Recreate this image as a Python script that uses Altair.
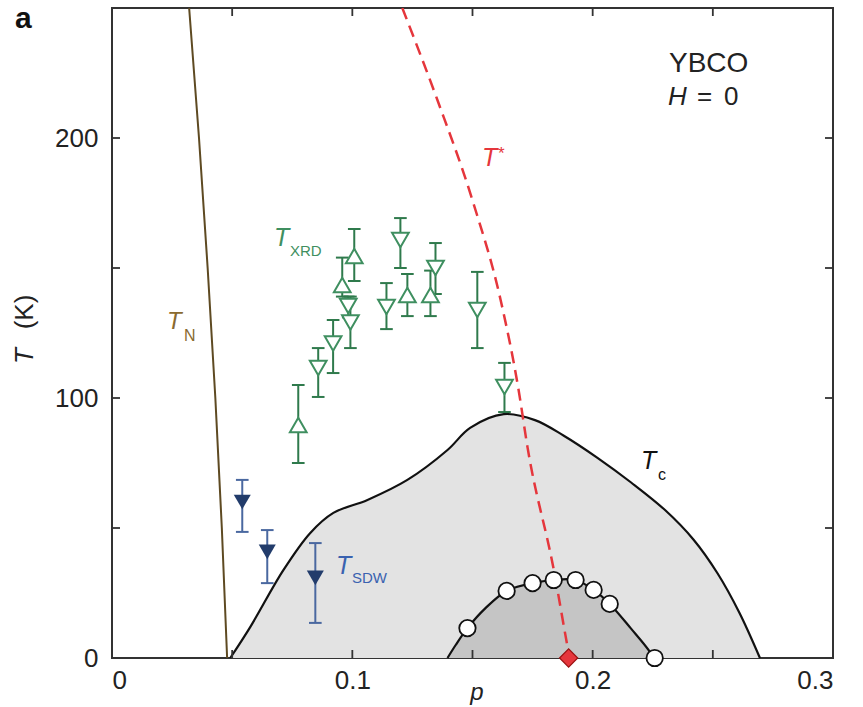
import altair as alt
import pandas as pd

# ---------------- data ----------------
tc_p = [0.0492, 0.0575, 0.0713, 0.0825, 0.0921, 0.1063, 0.1229, 0.1396, 0.1490, 0.1630,
        0.1760, 0.1880, 0.2020, 0.2160, 0.2300, 0.2420, 0.2520, 0.2610, 0.2696]
tc_T = [0, 11.9, 33.8, 48.1, 55.8, 60.8, 68.5, 80, 88.5, 93.8,
        91.5, 85.5, 77, 67.5, 57, 45.5, 32.5, 17.5, 0]

inner_p = [0.1396, 0.1430, 0.1479, 0.1554, 0.1642, 0.1750, 0.1838, 0.1929, 0.2004, 0.2071, 0.2158, 0.2233, 0.2250]
inner_T = [0, 5, 11.5, 19.2, 25.8, 28.8, 30, 30, 26.2, 20.8, 11.5, 3, 0]

circ_p = [0.1479, 0.1642, 0.1750, 0.1838, 0.1929, 0.2004, 0.2071, 0.2258]
circ_T = [11.5, 25.8, 28.8, 30, 30, 26.2, 20.8, 0]

tn_p = [0.0321, 0.0362, 0.0398, 0.0430, 0.0457, 0.0479]
tn_T = [250, 200, 150, 100, 50, 0]

tstar_p = [0.1208, 0.1354, 0.1500, 0.1617, 0.1692, 0.1729, 0.1838, 0.1896, 0.1904]
tstar_T = [250, 214.6, 176, 137.7, 103, 81, 34, 4, 0]

pstar_p = [0.190]
pstar_T = [0]

sdw_p = [0.0542, 0.0646, 0.0846]
sdw_T = [60, 40.8, 30.8]
sdw_lo = [48.5, 28.8, 13.5]
sdw_hi = [68.5, 49.2, 44.2]

xrd_up_p = [0.0775, 0.0958, 0.1008, 0.1229, 0.1325]
xrd_up_T = [89.6, 143.5, 154.6, 139.6, 139.6]
xrd_up_lo = [75, 139, 145, 131.5, 131.5]
xrd_up_hi = [105, 154, 165, 147.7, 149]

xrd_dn_p = [0.0858, 0.0920, 0.0983, 0.0992, 0.1142, 0.1200, 0.1346, 0.1520, 0.1633]
xrd_dn_T = [111.5, 121, 135.4, 129, 135, 160.8, 150, 133.8, 104.2]
xrd_dn_lo = [100.4, 109.6, 131, 119.2, 126.5, 150, 140, 119.2, 94.6]
xrd_dn_hi = [119.2, 130, 139, 139, 144.2, 169.2, 159.6, 148.5, 113.5]

x_ticks = [0, 0.05, 0.10, 0.15, 0.20, 0.25, 0.30]
y_ticks = [0, 50, 100, 150, 200, 250]
x_labels = [0, 0.1, 0.2, 0.3]
y_labels = [0, 100, 200]

# ---------------- style ----------------
W, H = 721, 650
FONT = "Liberation Sans"
GREEN = "#3f8f60"
GREEN_BAR = "#2f7a4c"
NAVY = "#223c6b"
BLUE_BAR = "#4a68a0"
RED = "#e5363c"

xs = alt.Scale(domain=[0, 0.3], nice=False, zero=False)
ys = alt.Scale(domain=[0, 250], nice=False)

X = lambda f="p": alt.X(f + ":Q", scale=xs,
                        axis=alt.Axis(values=x_labels, title="", ticks=False, domain=False, grid=False,
                                      labelExpr="datum.value == 0 ? '0' : format(datum.value, '.1f')",
                                      labelFont=FONT, labelFontSize=26, labelColor="#222",
                                      labelPadding=9))
Y = lambda f="T": alt.Y(f + ":Q", scale=ys,
                        axis=alt.Axis(values=y_labels, title="", ticks=False, domain=False, grid=False,
                                      labelFont=FONT, labelFontSize=26, labelColor="#222",
                                      labelPadding=14))

df = lambda **kw: pd.DataFrame(kw)

tc_df = df(p=tc_p, T=tc_T)
inner_df = df(p=inner_p, T=inner_T)

tc_area = alt.Chart(tc_df).mark_area(color="#e3e3e3", interpolate="catmull-rom").encode(x=X(), y=Y())
tc_line = alt.Chart(tc_df).mark_line(color="#111", strokeWidth=2.2, interpolate="catmull-rom").encode(x=X(), y=Y())
in_area = alt.Chart(inner_df).mark_area(color="#c5c5c5", interpolate="catmull-rom").encode(x=X(), y=Y())
in_line = alt.Chart(inner_df).mark_line(color="#111", strokeWidth=2.2, interpolate="catmull-rom").encode(x=X(), y=Y())

tn_line = alt.Chart(df(p=tn_p, T=tn_T, o=list(range(len(tn_p))))).mark_line(
    color="#5e4a22", strokeWidth=2, clip=True, interpolate="monotone").encode(
    x=X(), y=Y(), order="o:Q")

tstar_line = alt.Chart(df(p=tstar_p, T=tstar_T, o=list(range(len(tstar_p))))).mark_line(
    color=RED, strokeWidth=2.5, strokeDash=[12, 7], clip=True, interpolate="monotone").encode(
    x=X(), y=Y(), order="o:Q")

CAP = "M-1,0L1,0"


def errbars(p, T, lo, hi, color, width=2):
    d = df(p=p, T=T, lo=lo, hi=hi)
    r = alt.Chart(d).mark_rule(color=color, strokeWidth=width).encode(
        x=X(), y=Y("lo"), y2="hi:Q")
    c1 = alt.Chart(d).mark_point(shape=CAP, size=160, stroke=color, strokeWidth=width,
                                 filled=False, opacity=1).encode(x=X(), y=Y("lo"))
    c2 = alt.Chart(d).mark_point(shape=CAP, size=160, stroke=color, strokeWidth=width,
                                 filled=False, opacity=1).encode(x=X(), y=Y("hi"))
    return r + c1 + c2


xrd_up_bars = errbars(xrd_up_p, xrd_up_T, xrd_up_lo, xrd_up_hi, GREEN_BAR)
xrd_dn_bars = errbars(xrd_dn_p, xrd_dn_T, xrd_dn_lo, xrd_dn_hi, GREEN_BAR)
sdw_bars = errbars(sdw_p, sdw_T, sdw_lo, sdw_hi, BLUE_BAR)

xrd_up = alt.Chart(df(p=xrd_up_p, T=xrd_up_T)).mark_point(
    shape="triangle-up", size=280, fill="white", fillOpacity=1, stroke=GREEN, strokeWidth=2, opacity=1).encode(x=X(), y=Y())
xrd_dn = alt.Chart(df(p=xrd_dn_p, T=xrd_dn_T)).mark_point(
    shape="triangle-down", size=280, fill="white", fillOpacity=1, stroke=GREEN, strokeWidth=2, opacity=1).encode(x=X(), y=Y())
sdw = alt.Chart(df(p=sdw_p, T=sdw_T)).mark_point(
    shape="triangle-down", size=290, filled=True, color=NAVY, opacity=1).encode(x=X(), y=Y())

circles = alt.Chart(df(p=circ_p, T=circ_T)).mark_point(
    shape="circle", size=270, fill="white", fillOpacity=1, stroke="#111", strokeWidth=1.8, opacity=1).encode(x=X(), y=Y())

pstar = alt.Chart(df(p=pstar_p, T=pstar_T)).mark_point(
    shape="diamond", size=330, fill=RED, fillOpacity=1, stroke="#9a1010", strokeWidth=1.2, opacity=1).encode(x=X(), y=Y())

# inward ticks on all four sides
xt = df(p=x_ticks)
yt = df(T=y_ticks)
TL = 8
tick_style = dict(color="#333", strokeWidth=1.8)
ticks = (
    alt.Chart(xt).mark_rule(**tick_style).encode(x=X(), y=alt.value(H), y2=alt.value(H - TL))
    + alt.Chart(xt).mark_rule(**tick_style).encode(x=X(), y=alt.value(0), y2=alt.value(TL))
    + alt.Chart(yt).mark_rule(**tick_style).encode(y=Y(), x=alt.value(0), x2=alt.value(TL))
    + alt.Chart(yt).mark_rule(**tick_style).encode(y=Y(), x=alt.value(W), x2=alt.value(W - TL))
)


# ---------------- text ----------------
def txt(s, x, y, size=25, color="#222", style="normal", weight="normal", align="left",
        baseline="alphabetic", angle=0):
    kw = dict(text=s, font=FONT, fontSize=size, color=color, fontStyle=style, fontWeight=weight,
              align=align, baseline=baseline)
    if angle:
        kw["angle"] = angle
    return alt.Chart(df(a=[0])).mark_text(**kw).encode(x=alt.value(x), y=alt.value(y))


ox, oy = 112, 8  # plot origin in page pixels; annotations placed in plot pixels
texts = [
    txt("a", 15 - ox, 28 - oy, size=30, weight="bold", color="#111"),
    txt("YBCO", 669 - ox, 72 - oy, size=28),
    txt("H", 668 - ox, 105 - oy, size=26, style="italic"),
    txt("=", 697 - ox, 105 - oy, size=26),
    txt("0", 724 - ox, 105 - oy, size=26),
    txt("T", 274 - ox, 246 - oy, size=25, style="italic", color=GREEN),
    txt("XRD", 290 - ox, 256 - oy, size=15, color=GREEN),
    txt("T", 167 - ox, 329 - oy, size=24, style="italic", color="#8a6a30"),
    txt("N", 184 - ox, 341 - oy, size=16, color="#8a6a30"),
    txt("T", 482 - ox, 166 - oy, size=25, style="italic", color=RED),
    txt("*", 498 - ox, 159 - oy, size=17, color=RED),
    txt("T", 641 - ox, 469 - oy, size=25, style="italic", color="#111"),
    txt("c", 658 - ox, 480 - oy, size=16, color="#111"),
    txt("T", 336 - ox, 574 - oy, size=25, style="italic", color="#3a62b0"),
    txt("SDW", 352 - ox, 583 - oy, size=15, color="#3a62b0"),
    txt("T", 25 - ox, 356 - oy, size=26, style="italic", align="center", baseline="middle", angle=270),
    txt("(K)", 25 - ox, 312 - oy, size=26, align="center", baseline="middle", angle=270),
    txt("p", 477 - ox, 700 - oy, size=24, style="italic", align="center", baseline="alphabetic"),
]

chart = alt.layer(
    tc_area, in_area, tc_line, in_line, tn_line, tstar_line,
    xrd_up_bars, xrd_dn_bars, sdw_bars,
    xrd_up, xrd_dn, sdw, circles, pstar, ticks, *texts
).properties(
    width=W, height=H,
    autosize=alt.AutoSizeParams(type="none"),
    padding={"left": ox, "top": oy, "right": 863 - ox - W, "bottom": 707 - oy - H},
    background="white",
).configure_view(stroke="#333", strokeWidth=2)

chart.save("out.html", embed_options={"renderer": "svg", "actions": False})
